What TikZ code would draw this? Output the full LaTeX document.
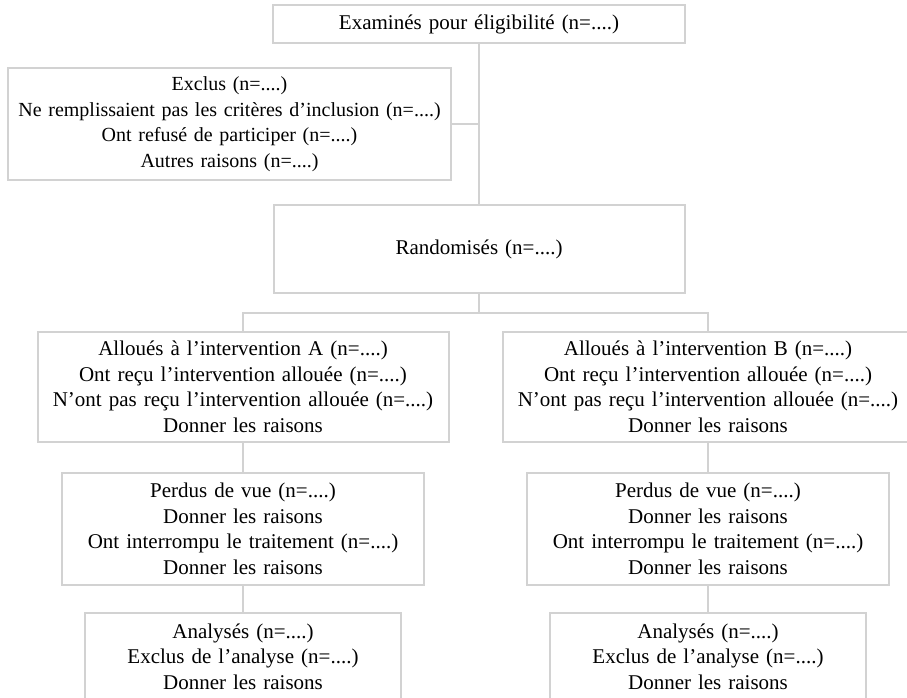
\documentclass[tikz,border=0pt]{standalone}
\usepackage{fontspec}
\setmainfont{Liberation Serif}
\usepackage{tikz}
\usetikzlibrary{positioning}
\definecolor{boxgray}{RGB}{210,210,210}

\begin{document}
\begin{tikzpicture}[
        x=1pt, y=1pt,
        box/.style={rectangle, draw=boxgray, line width=2pt, inner xsep=2pt, outer sep=0pt, align=center,
            font=\fontsize{21pt}{25.5pt}\selectfont},
        link/.style={draw=boxgray, line width=2pt}
    ]
        \useasboundingbox (0,0) rectangle (907,-697);

        % Screening
        \node[box, text width=408pt, minimum height=38pt] (exam) at (479,-24) {Examinés pour éligibilité (n=....)};

        % Randomisation
        \node[box, text width=407pt, minimum height=88pt] (rand) [below=162pt of exam] {Randomisés (n=....)};

        % Excluded
        \coordinate[below=81pt of exam] (split);
        \node[box, inner xsep=0pt, text width=443pt, minimum height=112pt,
            font=\fontsize{20pt}{25.5pt}\selectfont] (excl) [left=28pt of split] {Exclus (n=....)\\
            Ne remplissaient pas les critères d’inclusion (n=....)\\
            Ont refusé de participer (n=....)\\
            Autres raisons (n=....)};

        % Allocation
        \coordinate[below=20pt of rand] (fork);
        \node[box, text width=407pt, minimum height=110pt] (allocA) [below=39pt of rand, xshift=-236pt] {Alloués à l’intervention A (n=....)\\
            Ont reçu l’intervention allouée (n=....)\\
            N’ont pas reçu l’intervention allouée (n=....)\\
            Donner les raisons};
        \node[box, text width=407pt, minimum height=110pt] (allocB) [right=54pt of allocA] {Alloués à l’intervention B (n=....)\\
            Ont reçu l’intervention allouée (n=....)\\
            N’ont pas reçu l’intervention allouée (n=....)\\
            Donner les raisons};

        % Follow-up
        \node[box, text width=358pt, minimum height=112pt] (lostA) [below=31pt of allocA] {Perdus de vue (n=....)\\
            Donner les raisons\\
            Ont interrompu le traitement (n=....)\\
            Donner les raisons};
        \node[box, text width=358pt, minimum height=112pt] (lostB) [below=31pt of allocB] {Perdus de vue (n=....)\\
            Donner les raisons\\
            Ont interrompu le traitement (n=....)\\
            Donner les raisons};

        % Analysis
        \node[box, text width=312pt, minimum height=87pt] (anaA) [below=28pt of lostA] {Analysés (n=....)\\
            Exclus de l’analyse (n=....)\\
            Donner les raisons};
        \node[box, text width=312pt, minimum height=87pt] (anaB) [below=28pt of lostB] {Analysés (n=....)\\
            Exclus de l’analyse (n=....)\\
            Donner les raisons};

        % Lines
        \draw[link] (exam) -- (rand);
        \draw[link] (excl) -- (split);
        \draw[link] (rand) -- (fork);
        \draw[link] (allocA) |- (fork) -| (allocB);

        \draw[link] (allocA) -- (lostA);
        \draw[link] (lostA) -- (anaA);
        \draw[link] (allocB) -- (lostB);
        \draw[link] (lostB) -- (anaB);
    \end{tikzpicture}
\end{document}
